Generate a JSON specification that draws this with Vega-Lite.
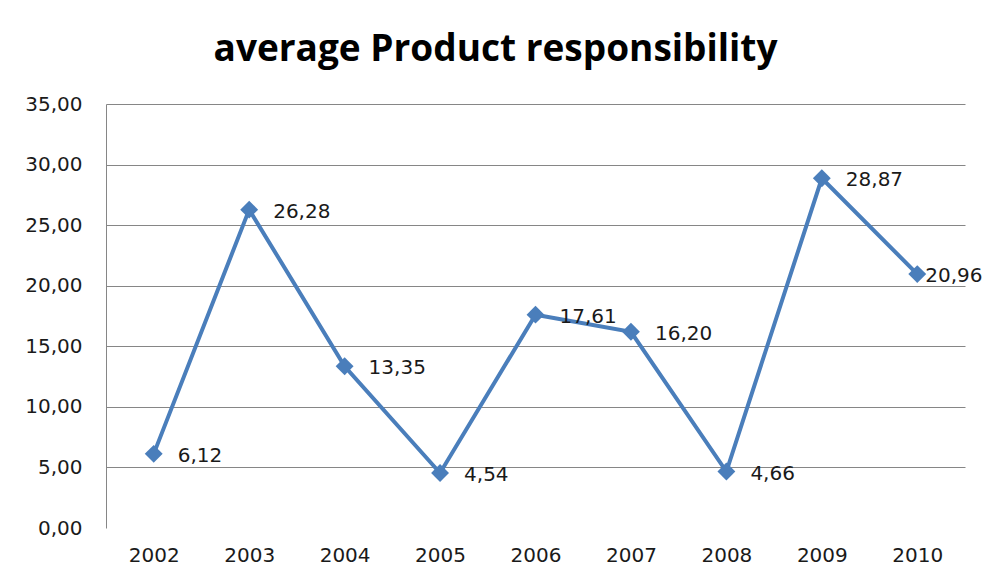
{
  "$schema": "https://vega.github.io/schema/vega-lite/v6.json",
  "autosize": "none",
  "width": 859,
  "height": 424,
  "padding": {"left": 106, "top": 104, "right": 22, "bottom": 55},
  "background": "white",
  "config": {
    "locale": {"number": {"decimal": ",", "thousands": ".", "grouping": [3], "currency": ["", " €"]}},
    "view": {"stroke": null},
    "font": "DejaVu Sans"
  },
  "title": {
    "text": "average Product responsibility",
    "font": "Open Sans",
    "fontWeight": "bold",
    "fontSize": 37,
    "color": "#000000",
    "anchor": "middle",
    "dx": -40,
    "offset": 25
  },
  "data": {
    "values": [
      {"year": "2002", "value": 6.12},
      {"year": "2003", "value": 26.28},
      {"year": "2004", "value": 13.35},
      {"year": "2005", "value": 4.54},
      {"year": "2006", "value": 17.61},
      {"year": "2007", "value": 16.20},
      {"year": "2008", "value": 4.66},
      {"year": "2009", "value": 28.87},
      {"year": "2010", "value": 20.96}
    ]
  },
  "encoding": {
    "x": {
      "field": "year",
      "type": "ordinal",
      "scale": {"type": "point", "padding": 0.5},
      "axis": {
        "title": null,
        "labelAngle": 0,
        "domain": false,
        "ticks": false,
        "grid": false,
        "labelPadding": 17,
        "labelFont": "DejaVu Sans",
        "labelFontSize": 20,
        "labelColor": "#1a1a1a"
      }
    },
    "y": {
      "field": "value",
      "type": "quantitative",
      "scale": {"domain": [0, 35], "nice": false},
      "axis": {
        "title": null,
        "values": [0, 5, 10, 15, 20, 25, 30, 35],
        "format": ".2f",
        "domain": true,
        "domainColor": "#868686",
        "domainWidth": 1,
        "ticks": false,
        "grid": true,
        "gridColor": "#868686",
        "gridWidth": 1,
        "gridOpacity": {"condition": {"test": "datum.value == 0", "value": 0}, "value": 1},
        "labelPadding": 24,
        "labelFont": "DejaVu Sans",
        "labelFontSize": 20,
        "labelColor": "#1a1a1a"
      }
    }
  },
  "layer": [
    {
      "mark": {"type": "line", "color": "#4a7ebb", "strokeWidth": 4}
    },
    {
      "mark": {"type": "point", "shape": "diamond", "filled": true, "color": "#4a7ebb", "size": 320, "opacity": 1}
    },
    {
      "transform": [{"filter": "datum.year != '2010'"}],
      "mark": {"type": "text", "align": "left", "baseline": "middle", "dx": 24, "dy": 2, "font": "DejaVu Sans", "fontSize": 20, "color": "#1a1a1a"},
      "encoding": {"text": {"field": "value", "type": "quantitative", "format": ".2f"}}
    },
    {
      "transform": [{"filter": "datum.year == '2010'"}],
      "mark": {"type": "text", "align": "left", "baseline": "middle", "dx": 8, "dy": 2, "font": "DejaVu Sans", "fontSize": 20, "color": "#1a1a1a"},
      "encoding": {"text": {"field": "value", "type": "quantitative", "format": ".2f"}}
    }
  ]
}
